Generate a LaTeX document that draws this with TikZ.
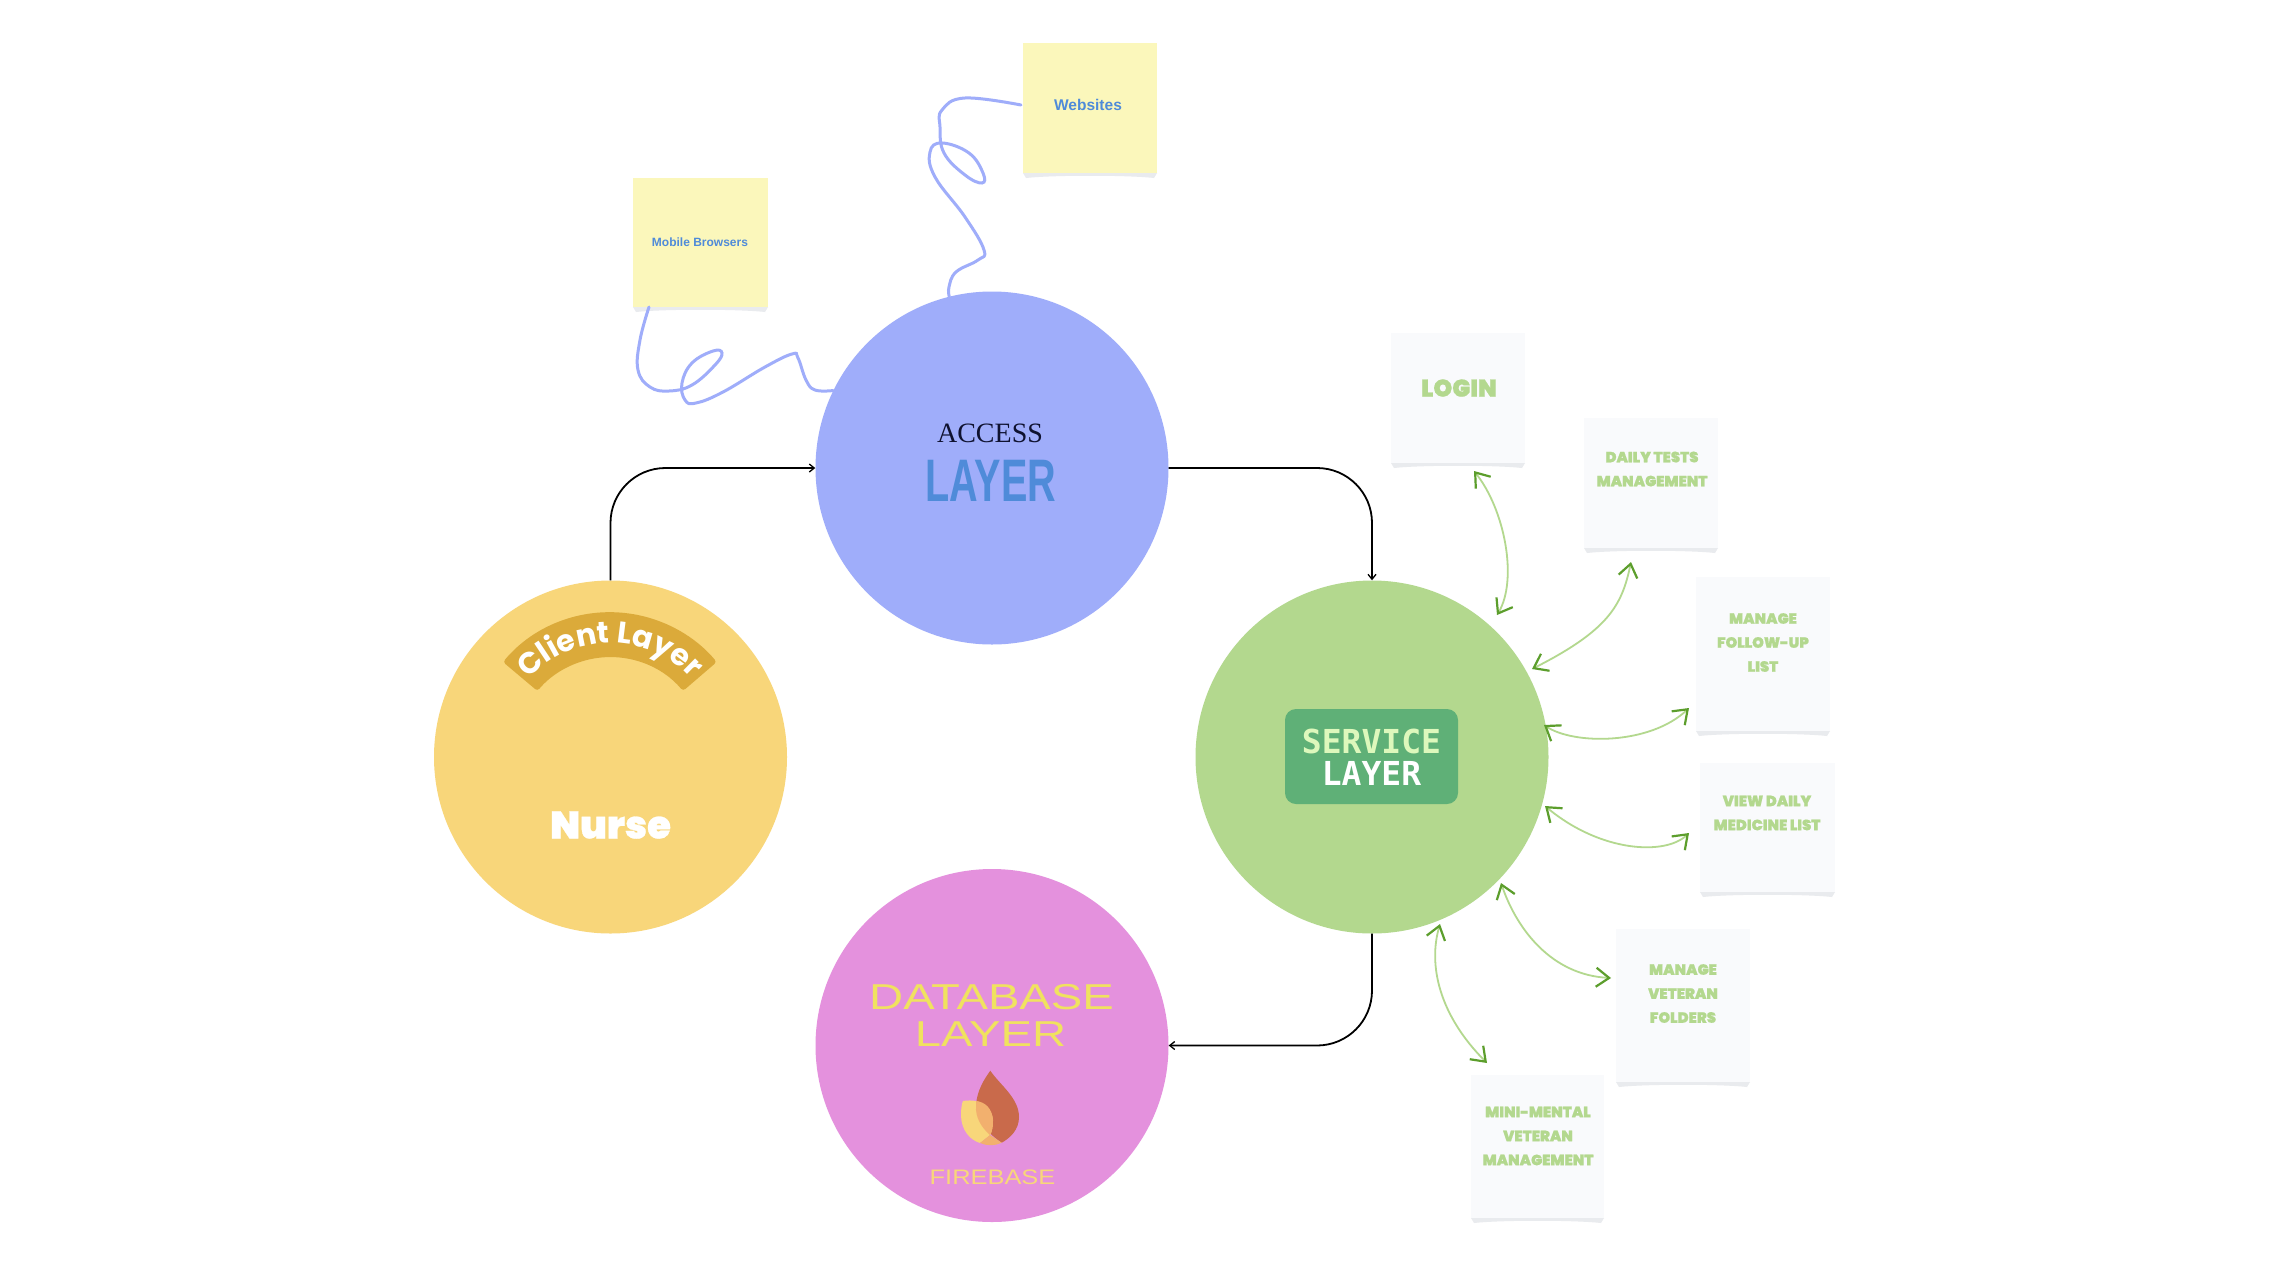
\documentclass[tikz,border=0pt]{standalone}
\usepackage{fontspec}
\usetikzlibrary{arrows.meta,decorations.text,calc}
\setmainfont{Liberation Sans}
\newfontfamily\heavyf[FakeBold=0.7]{Poppins Black}
\newfontfamily\poppb{Poppins Bold}
\newfontfamily\serifa{Liberation Serif}
\newfontfamily\narrowf[FakeStretch=0.66]{Liberation Sans Bold}
\newfontfamily\monof{DejaVu Sans Mono Bold}
\newfontfamily\wideA[FakeStretch=1.31]{Liberation Sans}
\newfontfamily\wideB[FakeStretch=1.21]{Liberation Sans}
\definecolor{cyellow}{HTML}{F8D67A}
\definecolor{cband}{HTML}{DBAA3A}
\definecolor{cblue}{HTML}{9FADFA}
\definecolor{cgreen}{HTML}{B3D88E}
\definecolor{cpink}{HTML}{E491DD}
\definecolor{cbox}{HTML}{5FB077}
\definecolor{cservice}{HTML}{DDF8BC}
\definecolor{cdbtext}{HTML}{F0E25F}
\definecolor{cltext}{HTML}{4F8BD9}
\definecolor{cnavy}{HTML}{0F1230}
\definecolor{cnote}{HTML}{FBF7BB}
\definecolor{ccard}{HTML}{F9FAFC}
\definecolor{cshadow}{HTML}{E9EBEE}
\definecolor{cdarkgreen}{HTML}{5C9E2C}
\definecolor{cflame}{HTML}{C96A4B}
\definecolor{corange}{HTML}{F2B06E}
\tikzset{
  layer/.style={circle,minimum size=353pt,inner sep=0pt,fill=#1},
  flow/.style={draw=black,line width=1.8pt,rounded corners=55pt,-{Straight Barb[length=5pt,width=8pt,line width=1.3pt]}},
  wire/.style={draw=cblue,line width=3pt,line cap=round},
  duplex/.style={draw=cgreen,line width=1.8pt,{Straight Barb[color=cdarkgreen,length=13pt,width=19pt,line width=2.2pt]}-{Straight Barb[color=cdarkgreen,length=13pt,width=19pt,line width=2.2pt]}},
  plain/.style={inner sep=0pt,align=center},
  cardtext/.style={plain,text=cgreen,font=\heavyf\fontsize{14.8}{24}\selectfont},
  notetext/.style={plain,text=cltext,font=\bfseries},
}
\newcommand{\sheet}[6]{% name, left, top, right, bottom, colour
  \fill[cshadow] (#2,#5) -- (#2+3,#5+5) .. controls (#2+30,#5+2) and (#4-30,#5+2) .. (#4-3,#5+5) -- (#4,#5) -- cycle;
  \path[fill=#6] (#2,#3) rectangle (#4,#5);
  \coordinate (#1) at ({(#2+#4)/2},{(#3+#5)/2});
}
\begin{document}
\begin{tikzpicture}[x=1pt,y=-1pt]
\useasboundingbox (0,0) rectangle (2270,1264);
\fill[white] (0,0) rectangle (2270,1264);

% layers
\node[layer=cyellow] (client) at (610.5,757) {};
\node[layer=cblue] (access) at (992,468) {};
\node[layer=cgreen] (service) at (1372,757) {};
\node[layer=cpink] (db) at (992,1045.5) {};

% black flows
\draw[flow] (client.north) |- (access.west);
\draw[flow] (access.east) -| (service.north);
\draw[flow] (service.south) |- (db.east);

% client layer
\fill[cband,rounded corners=3pt] (503,662) arc[start angle=140,end angle=40,radius=139.5pt] -- (683,691) arc[start angle=40,end angle=140,radius=95pt] -- cycle;
\path[decorate,decoration={text along path,text align=center,text={|\poppb\fontsize{30}{32}\selectfont\color{white}|Client Layer}}]
  (515.6,697.5) arc[start angle=150,end angle=30,radius=109pt];
\node[plain,text=white,font=\heavyf\fontsize{38.5}{42}\selectfont] (nurse) at (610.5,825) {Nurse};

% access layer
\node[plain,text=cnavy,font=\serifa\fontsize{28}{30}\selectfont] (accesst) at (990,433) {ACCESS};
\node[plain,text=cltext,font=\narrowf\fontsize{60}{60}\selectfont] (accessl) at (991,481) {LAYER};

% service layer
\node[rounded corners=11pt,fill=cbox,minimum width=173pt,minimum height=95pt,inner sep=0pt] (svcbox) at (1371.5,756.5) {};
\node[plain,text=cservice,font=\monof\fontsize{33}{33}\selectfont] (svc1) at (1371.5,741.5) {SERVICE};
\node[plain,text=white,font=\monof\fontsize{33}{33}\selectfont] (svc2) at (1371.5,773.5) {LAYER};

% database layer
\node[plain,text=cdbtext,font=\wideA\fontsize{36}{36}\selectfont] (db1) at (991.5,997) {DATABASE};
\node[plain,text=cdbtext,font=\wideA\fontsize{36}{36}\selectfont] (db2) at (990.5,1034) {LAYER};
\node[plain,text=cyellow,font=\wideB\fontsize{21}{21}\selectfont] (db3) at (992.5,1177) {FIREBASE};

% flame
\fill[cflame] (990.3,1070.7) .. controls (1000,1085) and (1019,1098) .. (1019,1117)
  .. controls (1019,1130) and (1010,1138) .. (1001.7,1142.7)
  .. controls (990,1135) and (975,1120) .. (976,1105)
  .. controls (977,1090) and (985,1078) .. cycle;
\fill[cyellow] (963,1101) .. controls (969,1100) and (990,1098) .. (993,1120)
  .. controls (993,1126) and (992,1132) .. (990,1135)
  -- (980,1143) .. controls (970,1140) and (961,1130) .. (961,1115)
  .. controls (961,1108) and (962,1103) .. cycle;
\fill[corange] (976,1101) .. controls (985,1102) and (992,1108) .. (993,1120)
  .. controls (993,1126) and (992,1132) .. (990,1135)
  .. controls (982,1128) and (975,1118) .. (976,1105) -- cycle;
\fill[corange] (980,1143) -- (990,1135) -- (1001.7,1142.7) .. controls (995,1146) and (987,1146) .. cycle;

% notes
\sheet{mobile}{633}{178}{768}{307}{cnote}
\sheet{websites}{1023}{43}{1157}{173}{cnote}
\node[notetext,font=\bfseries\fontsize{12}{14}\selectfont] (mobilet) at (700,242) {Mobile Browsers};
\node[notetext,font=\bfseries\fontsize{15.5}{18}\selectfont] (websitest) at (1088,105) {Websites};

% wires
\coordinate (mobilefoot) at (649,307);
\coordinate (websitesside) at (1021,105);
\draw[wire] plot[smooth,tension=0.7] coordinates {(websitesside) (965,98) (942,110) (940,127) (944,153) (965,175) (982,183) (983,173) (969,153) (942,143) (930,152) (935,177) (965,217) (984,250) (978,260) (956,272) (949,287) (access.104)};
\draw[wire] plot[smooth,tension=0.7] coordinates {(mobilefoot) (640,340) (638,370) (650,387) (669,391) (692,385) (715,365) (722,353) (713,351) (692,363) (682,383) (685,400) (696,403) (723,392) (765,367) (792,354) (798,358) (806,380) (815,390) (access.154)};

% cards
\sheet{login}{1391}{333}{1525}{463}{ccard}
\sheet{daily}{1584}{418}{1718}{548}{ccard}
\sheet{follow}{1696}{577}{1830}{731}{ccard}
\sheet{view}{1700}{763}{1835}{892}{ccard}
\sheet{folders}{1616}{929}{1750}{1082}{ccard}
\sheet{mini}{1471}{1075}{1604}{1218}{ccard}
\node[cardtext,font=\heavyf\fontsize{24}{24}\selectfont] (logint) at (1459,388) {LOGIN};
\node[cardtext] (dailyt) at (1652,469) {DAILY TESTS\\MANAGEMENT};
\node[cardtext] (followt) at (1763,642.5) {MANAGE\\FOLLOW-UP\\LIST};
\node[cardtext] (viewt) at (1767,813) {VIEW DAILY\\MEDICINE LIST};
\node[cardtext] (folderst) at (1683,993.5) {MANAGE\\VETERAN\\FOLDERS};
\node[cardtext] (minit) at (1538,1136) {MINI-MENTAL\\VETERAN\\MANAGEMENT};

% duplex connectors
\coordinate (a1) at (1474,471); \coordinate (b1) at (1497,615);
\coordinate (a2) at (1631,562); \coordinate (b2) at (1532,669);
\coordinate (a3) at (1689,708); \coordinate (b3) at (1544,725);
\coordinate (a4) at (1689,833); \coordinate (b4) at (1545,806);
\coordinate (a5) at (1611,978); \coordinate (b5) at (1501,883);
\coordinate (a6) at (1487,1063); \coordinate (b6) at (1440,924);
\draw[duplex] (a1) .. controls (1505,510) and (1518,580) .. (b1);
\draw[duplex] (a2) .. controls (1622,605) and (1609,630) .. (b2);
\draw[duplex] (a3) .. controls (1650,745) and (1574,745) .. (b3);
\draw[duplex] (a4) .. controls (1665,856) and (1600,852) .. (b4);
\draw[duplex] (a5) .. controls (1552,975) and (1517,930) .. (b5);
\draw[duplex] (a6) .. controls (1439,1015) and (1428,965) .. (b6);
\end{tikzpicture}
\end{document}
